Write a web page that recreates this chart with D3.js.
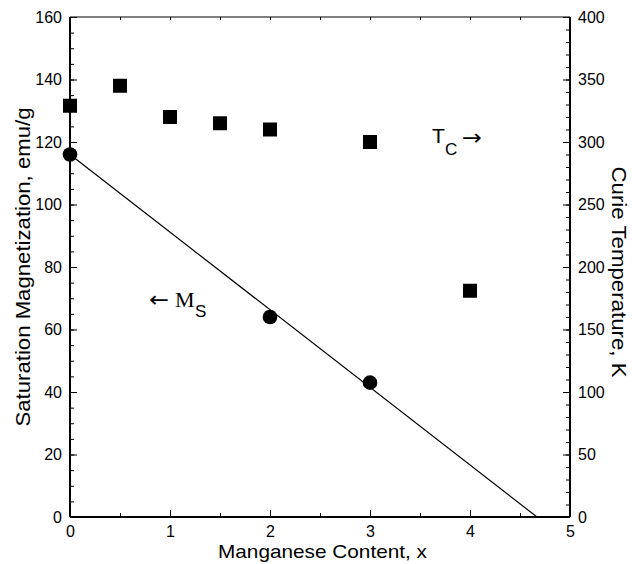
<!DOCTYPE html>
<html><head><meta charset="utf-8">
<script src="https://cdn.jsdelivr.net/npm/d3@7/dist/d3.min.js"></script>
<style>body{margin:0;background:#fff}svg{display:block}</style>
</head><body>
<svg id="c" width="632" height="564"></svg>
<script>
const tcX = [0, 0.5, 1, 1.5, 2, 3, 4];
const tcY = [329, 345, 320, 315, 310, 300, 181];
const msX = [0, 2, 3];
const msY = [116, 64, 43];
const fitX = [0, 4.67];
const fitY = [116, 0];
const xTicks = [0,1,2,3,4,5];
const leftTicks = [0,20,40,60,80,100,120,140,160];
const rightTicks = [0,50,100,150,200,250,300,350,400];

const svg = d3.select("#c");
const L=70, R=570, T=17, B=517;
const x = d3.scaleLinear().domain([0,5]).range([L,R]);
const yL = d3.scaleLinear().domain([0,160]).range([B,T]);
const yR = d3.scaleLinear().domain([0,400]).range([B,T]);
const font = "'Liberation Sans', Arial, Helvetica, sans-serif";

function styleAxis(g){
  g.select(".domain").remove();
  g.selectAll("text").attr("font-family",font).attr("font-size",16).attr("fill","#000");
  g.selectAll("line").attr("stroke","#000").attr("stroke-width",1);
}
svg.append("g").attr("transform",`translate(${L},0)`)
  .call(d3.axisRight(yL).tickValues(d3.range(0,161,5)).tickSize(4).tickFormat("")).call(styleAxis);
svg.append("g").attr("transform",`translate(${L},0)`)
  .call(d3.axisLeft(yL).tickValues(leftTicks).tickSize(0).tickPadding(8).tickFormat(d3.format("d"))).call(styleAxis);
svg.append("g").attr("transform",`translate(${L},0)`)
  .call(d3.axisRight(yL).tickValues(leftTicks).tickSize(7).tickFormat("")).call(styleAxis);

svg.append("g").attr("transform",`translate(${R},0)`)
  .call(d3.axisLeft(yR).tickValues(d3.range(0,401,10)).tickSize(4).tickFormat("")).call(styleAxis);
svg.append("g").attr("transform",`translate(${R},0)`)
  .call(d3.axisLeft(yR).tickValues(rightTicks).tickSize(7).tickFormat("")).call(styleAxis);
svg.append("g").attr("transform",`translate(${R},0)`)
  .call(d3.axisRight(yR).tickValues(rightTicks).tickSize(0).tickPadding(8).tickFormat(d3.format("d"))).call(styleAxis);

svg.append("g").attr("transform",`translate(0,${B})`)
  .call(d3.axisTop(x).tickValues(d3.range(0,5.01,0.5)).tickSize(4).tickFormat("")).call(styleAxis);
svg.append("g").attr("transform",`translate(0,${B})`)
  .call(d3.axisTop(x).tickValues(xTicks).tickSize(7).tickFormat("")).call(styleAxis);
svg.append("g").attr("transform",`translate(0,${B})`)
  .call(d3.axisBottom(x).tickValues(xTicks).tickSize(0).tickPadding(9).tickFormat(d3.format("d"))).call(styleAxis);
svg.append("g").attr("transform",`translate(0,${T})`)
  .call(d3.axisBottom(x).tickValues(d3.range(0,5.01,0.5)).tickSize(3).tickFormat("")).call(styleAxis);

// frame
svg.append("line").attr("x1",L).attr("x2",R).attr("y1",T).attr("y2",T).attr("stroke","#000").attr("stroke-width",1.2);
svg.append("line").attr("x1",L).attr("x2",R).attr("y1",B).attr("y2",B).attr("stroke","#000").attr("stroke-width",2);
svg.append("line").attr("x1",L).attr("x2",L).attr("y1",T).attr("y2",B).attr("stroke","#000").attr("stroke-width",2);
svg.append("line").attr("x1",R).attr("x2",R).attr("y1",T).attr("y2",B).attr("stroke","#000").attr("stroke-width",2);

// fit line
svg.append("path").datum(fitX.map((d,i)=>[d,fitY[i]]))
  .attr("d", d3.line().x(d=>x(d[0])).y(d=>yL(d[1])))
  .attr("stroke","#000").attr("stroke-width",1.2).attr("fill","none");

const s=14;
svg.selectAll("rect.tc").data(tcX.map((d,i)=>[d,tcY[i]])).enter().append("rect")
  .attr("x",d=>x(d[0])-s/2).attr("y",d=>yR(d[1])-s/2).attr("width",s).attr("height",s).attr("fill","#000");
svg.selectAll("circle.ms").data(msX.map((d,i)=>[d,msY[i]])).enter().append("circle")
  .attr("cx",d=>x(d[0])).attr("cy",d=>yL(d[1])).attr("r",7.3).attr("fill","#000");

// annotations
const ann = svg.append("g").attr("fill","#000");
ann.append("text").attr("x",432).attr("y",143).attr("font-family",font).attr("font-size",21).text("T");
ann.append("text").attr("x",445).attr("y",155).attr("font-family",font).attr("font-size",17).text("C");
ann.append("text").attr("x",462).attr("y",145).attr("font-family","'DejaVu Sans'").attr("font-size",22)
  .attr("textLength",20).attr("lengthAdjust","spacingAndGlyphs").text("→");
ann.append("text").attr("x",149).attr("y",307).attr("font-family","'DejaVu Sans'").attr("font-size",22)
  .attr("textLength",20).attr("lengthAdjust","spacingAndGlyphs").text("←");
ann.append("text").attr("x",175).attr("y",307).attr("font-family","'Liberation Serif', 'Times New Roman', serif").attr("font-size",22).text("M");
ann.append("text").attr("x",195).attr("y",317).attr("font-family",font).attr("font-size",17).text("S");

// axis titles
svg.append("text").attr("x",(218+427)/2).attr("y",558).attr("text-anchor","middle")
  .attr("font-family",font).attr("font-size",19).attr("textLength",209).attr("lengthAdjust","spacingAndGlyphs")
  .text("Manganese Content, x");
svg.append("text").attr("transform",`translate(30,267) rotate(-90)`).attr("text-anchor","middle")
  .attr("font-family",font).attr("font-size",20).attr("textLength",319).attr("lengthAdjust","spacingAndGlyphs")
  .text("Saturation Magnetization, emu/g");
svg.append("text").attr("transform",`translate(612,272) rotate(90)`).attr("text-anchor","middle")
  .attr("font-family",font).attr("font-size",20).attr("textLength",211).attr("lengthAdjust","spacingAndGlyphs")
  .text("Curie Temperature, K");
</script>
</body></html>
